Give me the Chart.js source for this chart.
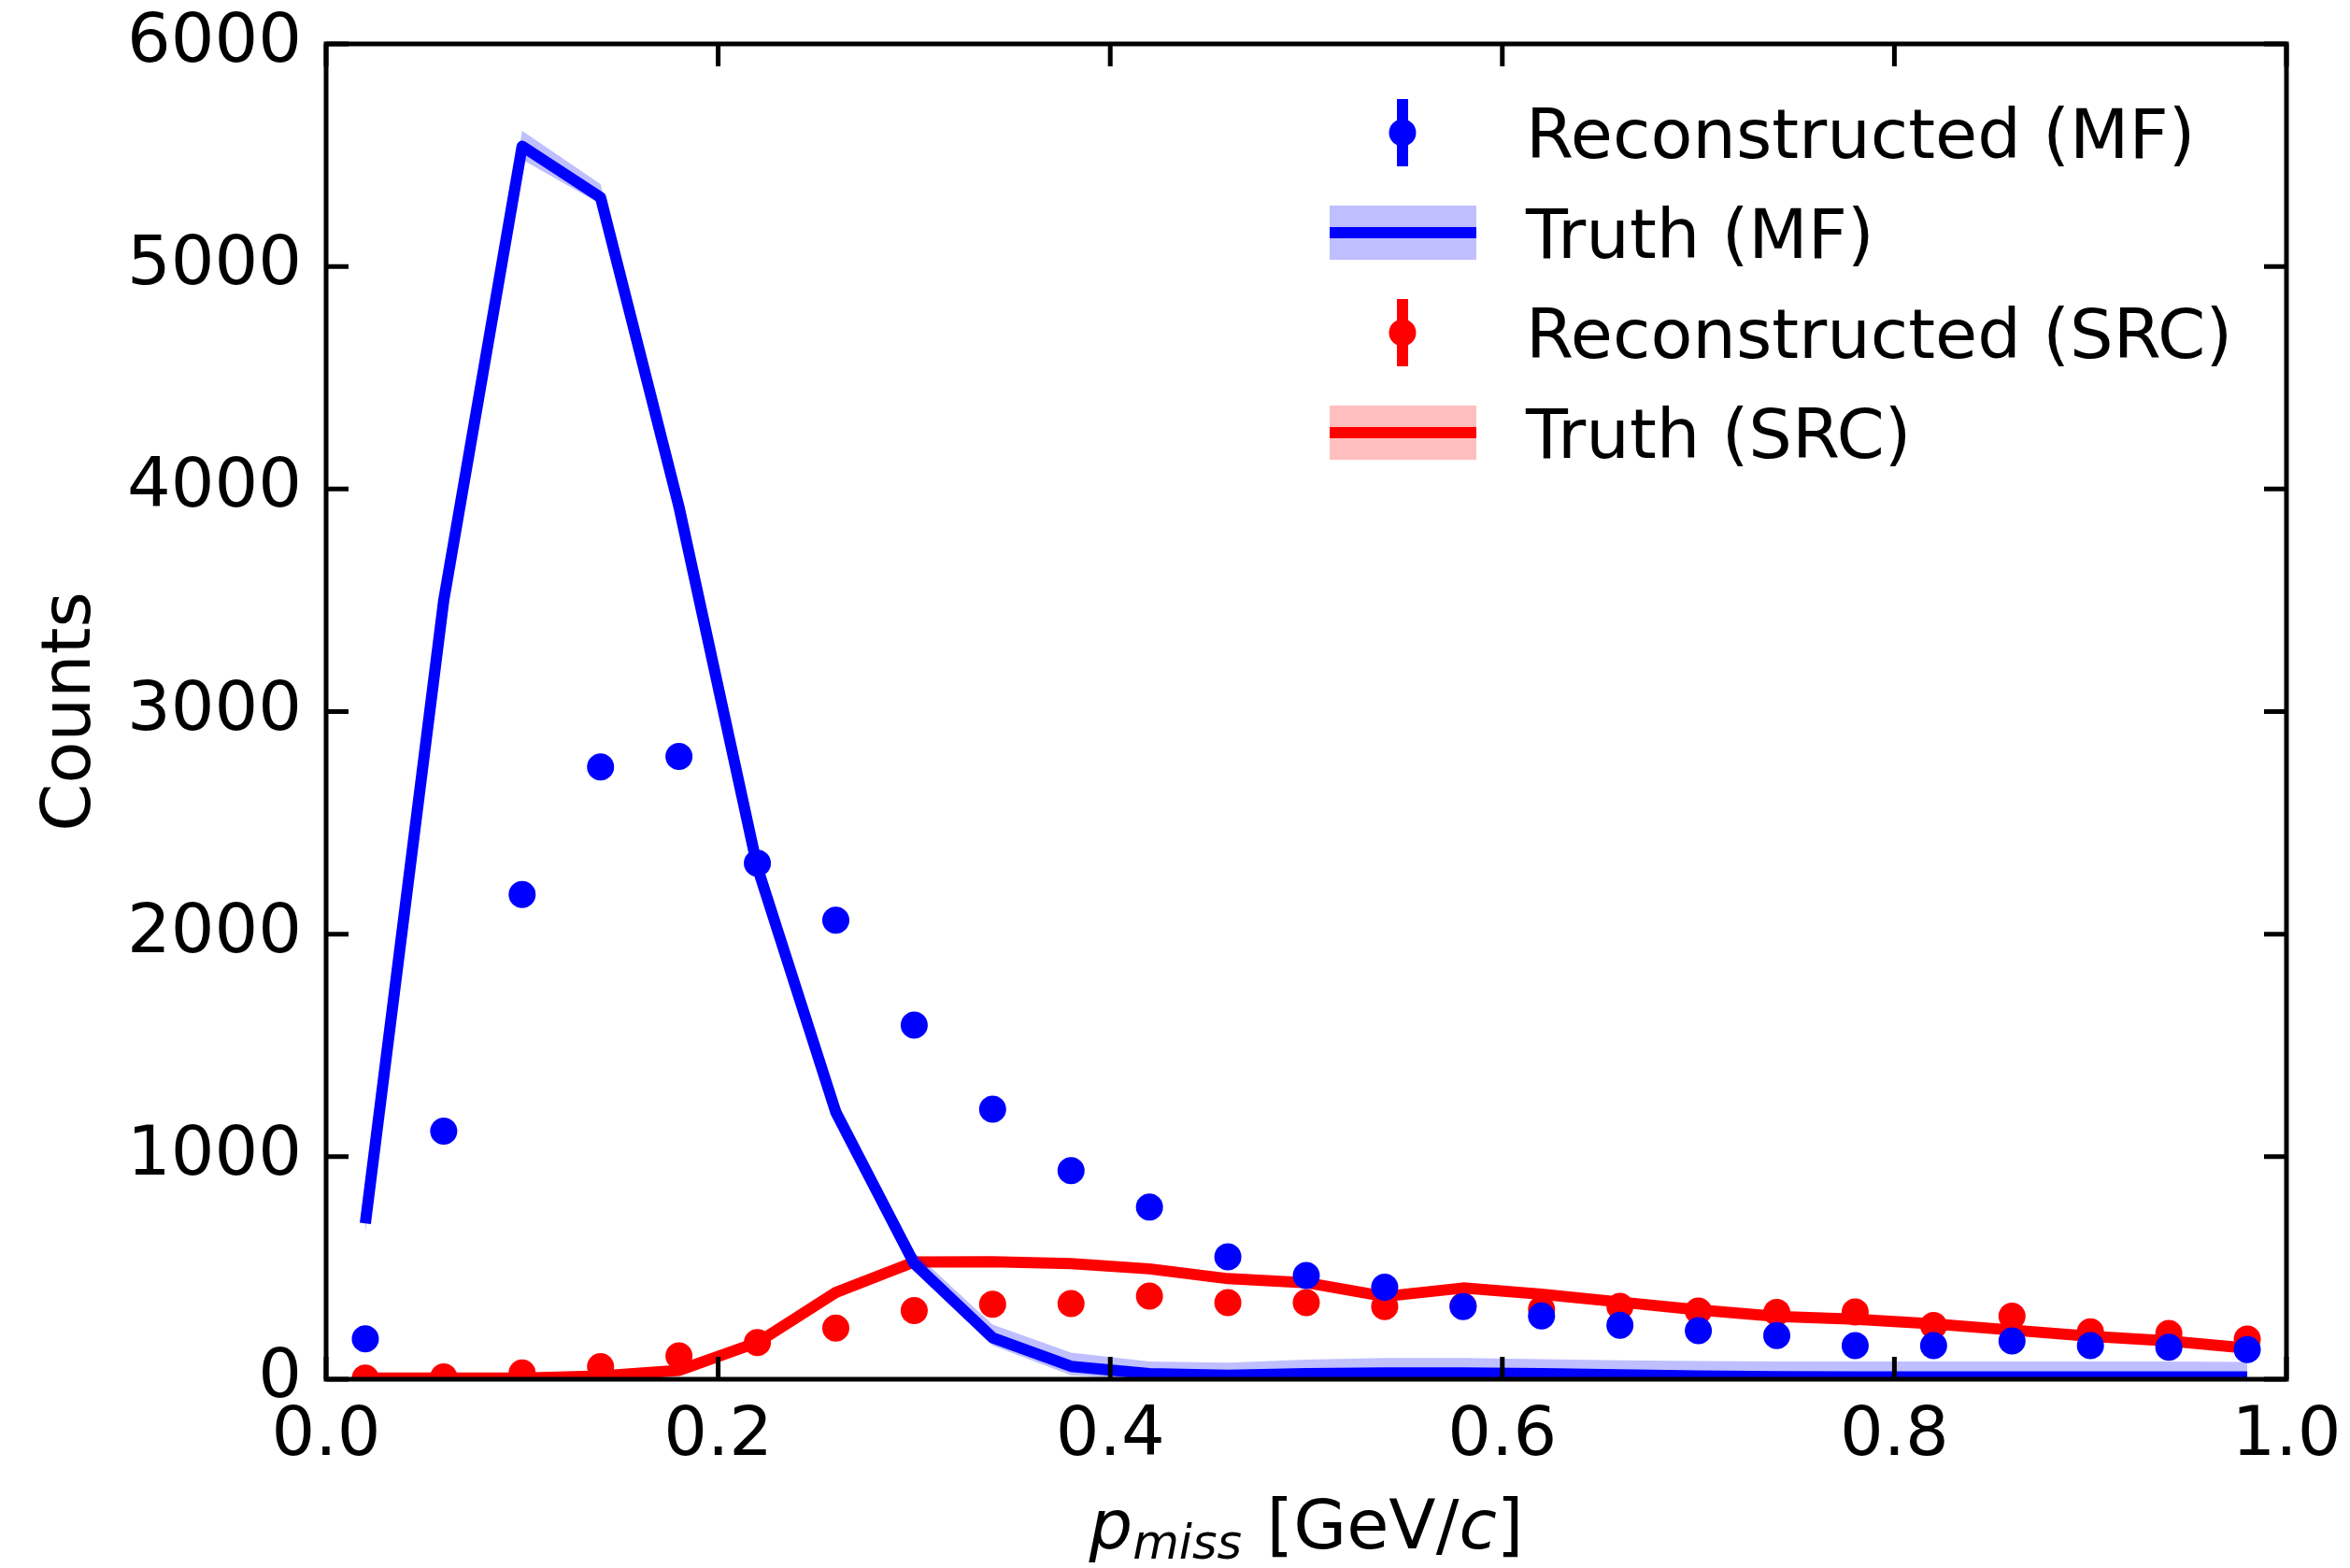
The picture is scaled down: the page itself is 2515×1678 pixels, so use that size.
<!DOCTYPE html>
<html>
<head>
<meta charset="utf-8">
<title>p_miss: reconstructed vs truth</title>
<script src="https://cdn.jsdelivr.net/npm/chart.js@4.4.1/dist/chart.umd.min.js"></script>
<style>
  html, body { margin: 0; padding: 0; background: #fff; }
  #wrap { width: 2515px; height: 1678px; position: relative; }
</style>
</head>
<body>
<div id="wrap"><canvas id="chart"></canvas></div>
<script>
// ── DATA ──────────────────────────────────────────────────────────
const P_MISS = [0.02, 0.06, 0.10, 0.14, 0.18, 0.22, 0.26, 0.30, 0.34, 0.38, 0.42, 0.46, 0.50,
                0.54, 0.58, 0.62, 0.66, 0.70, 0.74, 0.78, 0.82, 0.86, 0.90, 0.94, 0.98];

// Reconstructed counts (points)
const RECO_MF  = [182, 1115, 2178, 2751, 2798, 2319, 2063, 1591, 1213, 937, 774, 550, 466,
                  414, 326, 284, 242, 218, 196, 151, 151, 172, 151, 144, 133];
const RECO_SRC = [5, 10, 28, 57, 105, 165, 230, 309, 337, 340, 374, 344, 344,
                  326, 330, 315, 327, 306, 300, 302, 241, 283, 213, 206, 181];

// Truth curves with their uncertainty bands
const TRUTH_MF    = [700, 3500, 5540, 5310, 3920, 2300, 1200, 520, 186, 58, 25, 18, 25,
                     28, 28, 25, 20, 15, 12, 10, 10, 10, 10, 10, 10];
const TRUTH_MF_LO = [660, 3460, 5480, 5280, 3880, 2260, 1160, 490, 151, 18, 0, 0, 0,
                     0, 0, 0, 0, 0, 0, 0, 0, 0, 0, 0, 0];
const TRUTH_MF_HI = [760, 3560, 5610, 5370, 3980, 2360, 1260, 571, 246, 120, 80, 75, 88,
                     95, 95, 90, 85, 82, 80, 80, 80, 80, 80, 80, 78];

const TRUTH_SRC    = [5, 5, 5, 15, 40, 165, 390, 527, 528, 520, 496, 452, 434,
                      372, 410, 382, 347, 312, 282, 270, 249, 221, 193, 172, 140];
const TRUTH_SRC_LO = [0, 0, 0, 3, 28, 153, 378, 515, 516, 508, 484, 440, 422,
                      360, 398, 370, 335, 300, 270, 258, 237, 209, 181, 160, 128];
const TRUTH_SRC_HI = [17, 17, 17, 27, 52, 177, 402, 539, 540, 532, 508, 464, 446,
                      384, 422, 394, 359, 324, 294, 282, 261, 233, 205, 184, 152];

const X_TICKS = [0, 0.2, 0.4, 0.6, 0.8, 1.0];
const Y_TICKS = [0, 1000, 2000, 3000, 4000, 5000, 6000];

const LEGEND_ROWS = [
  { label: 'Reconstructed (MF)',  kind: 'point', color: '#0000ff' },
  { label: 'Truth (MF)',          kind: 'band',  color: '#0000ff', fill: 'rgba(0,0,255,0.25)' },
  { label: 'Reconstructed (SRC)', kind: 'point', color: '#ff0000' },
  { label: 'Truth (SRC)',         kind: 'band',  color: '#ff0000', fill: 'rgba(255,0,0,0.25)' },
];

// ── HELPERS ───────────────────────────────────────────────────────
const FONT = '"DejaVu Sans", "Liberation Sans", sans-serif';
const FS = 73.5;
const xy = ys => P_MISS.map((x, i) => ({ x, y: ys[i] }));

function lineSet(ys, color, order) {
  return { data: xy(ys), borderColor: color, borderWidth: 12, pointRadius: 0,
           borderJoinStyle: 'round', borderCapStyle: 'butt', tension: 0,
           fill: false, order, clip: 0 };
}
function bandSet(ys, fillColor, order, fill) {
  return { data: xy(ys), borderWidth: 0, borderColor: 'rgba(0,0,0,0)', pointRadius: 0,
           backgroundColor: fillColor, tension: 0, fill, order, clip: 0 };
}
function pointSet(ys, color, order) {
  return { data: xy(ys), showLine: false, pointRadius: 14.5, pointHoverRadius: 14.5,
           pointBorderWidth: 0, pointBackgroundColor: color, borderColor: color,
           order, clip: 0 };
}

// ── FRAME, TICKS, AXIS TITLES, LEGEND ─────────────────────────────
const decorations = {
  id: 'decorations',
  afterDraw(chart) {
    const { ctx, chartArea: a, scales } = chart;
    const TL = 24;
    ctx.save();
    ctx.strokeStyle = '#000';
    ctx.lineWidth = 5;
    ctx.lineCap = 'butt';
    ctx.beginPath();
    X_TICKS.forEach(v => {
      const px = scales.x.getPixelForValue(v);
      ctx.moveTo(px, a.bottom); ctx.lineTo(px, a.bottom - TL);
      ctx.moveTo(px, a.top);    ctx.lineTo(px, a.top + TL);
    });
    Y_TICKS.forEach(v => {
      const py = scales.y.getPixelForValue(v);
      ctx.moveTo(a.left, py);  ctx.lineTo(a.left + TL, py);
      ctx.moveTo(a.right, py); ctx.lineTo(a.right - TL, py);
    });
    ctx.stroke();
    ctx.lineJoin = 'miter';
    ctx.strokeRect(a.left, a.top, a.right - a.left, a.bottom - a.top);

    // y title
    ctx.fillStyle = '#000';
    ctx.save();
    ctx.translate(96, (a.top + a.bottom) / 2);
    ctx.rotate(-Math.PI / 2);
    ctx.font = FS + 'px ' + FONT;
    ctx.textAlign = 'center';
    ctx.textBaseline = 'alphabetic';
    ctx.fillText('Counts', 0, 0);
    ctx.restore();

    // x title: p_miss [GeV/c]
    const parts = [
      { t: 'p',      font: 'italic ' + FS + 'px ' + FONT, dy: 0 },
      { t: 'miss',   font: 'italic 51px ' + FONT, dy: 11, after: 3 },
      { t: ' [GeV/', font: FS + 'px ' + FONT, dy: 0 },
      { t: 'c',      font: 'italic ' + FS + 'px ' + FONT, dy: 0 },
      { t: ']',      font: FS + 'px ' + FONT, dy: 0 },
    ];
    let total = 0;
    parts.forEach(p => { ctx.font = p.font; p.w = ctx.measureText(p.t).width; total += p.w + (p.after || 0); });
    let x = (a.left + a.right) / 2 - total / 2;
    const base = 1657;
    ctx.textAlign = 'left';
    parts.forEach(p => {
      ctx.font = p.font;
      ctx.fillText(p.t, x, base + p.dy);
      x += p.w + (p.after || 0);
    });

    // legend
    const hx = 1501, tx = 1633;
    LEGEND_ROWS.forEach((r, i) => {
      const cy = 142 + i * 107;
      if (r.kind === 'point') {
        ctx.strokeStyle = r.color;
        ctx.lineWidth = 12;
        ctx.beginPath();
        ctx.moveTo(hx, cy - 36); ctx.lineTo(hx, cy + 36);
        ctx.stroke();
        ctx.fillStyle = r.color;
        ctx.beginPath();
        ctx.arc(hx, cy, 14.5, 0, Math.PI * 2);
        ctx.fill();
      } else {
        ctx.fillStyle = r.fill;
        ctx.fillRect(1423, cy - 29, 157, 58);
        ctx.strokeStyle = r.color;
        ctx.lineWidth = 12;
        ctx.beginPath();
        ctx.moveTo(1423, cy); ctx.lineTo(1580, cy);
        ctx.stroke();
      }
      ctx.fillStyle = '#000';
      ctx.font = FS + 'px ' + FONT;
      ctx.textBaseline = 'alphabetic';
      ctx.fillText(r.label, tx, cy + 26.5);
    });
    ctx.restore();
  }
};

// ── CHART ─────────────────────────────────────────────────────────
Chart.defaults.font.family = FONT;
Chart.defaults.font.size = FS;
Chart.defaults.color = '#000';

new Chart(document.getElementById('chart'), {
  type: 'line',
  data: {
    datasets: [
      pointSet(RECO_MF, '#0000ff', 0),
      pointSet(RECO_SRC, '#ff0000', 1),
      lineSet(TRUTH_MF, '#0000ff', 2),
      bandSet(TRUTH_MF_HI, 'rgba(0,0,255,0.25)', 3, '+1'),
      bandSet(TRUTH_MF_LO, 'rgba(0,0,0,0)', 3, false),
      lineSet(TRUTH_SRC, '#ff0000', 4),
      bandSet(TRUTH_SRC_HI, 'rgba(255,0,0,0.25)', 5, '+1'),
      bandSet(TRUTH_SRC_LO, 'rgba(0,0,0,0)', 5, false),
    ]
  },
  options: {
    responsive: true,
    maintainAspectRatio: false,
    animation: false,
    events: [],
    layout: { padding: { top: 47, right: 68, left: 0, bottom: 0 } },
    plugins: { legend: { display: false }, tooltip: { enabled: false } },
    scales: {
      x: {
        type: 'linear', min: 0, max: 1,
        grid: { display: false, drawTicks: false, tickLength: 0 }, border: { display: false },
        ticks: { stepSize: 0.2, padding: 18, maxRotation: 0, autoSkip: false,
                 callback: v => Number(v).toFixed(1) },
        afterFit: s => { s.height = 202; s.paddingLeft = 0; s.paddingRight = 0; }
      },
      y: {
        type: 'linear', min: 0, max: 6000,
        grid: { display: false, drawTicks: false, tickLength: 0 }, border: { display: false },
        ticks: { stepSize: 1000, padding: 26, callback: v => String(v) },
        afterFit: s => { s.width = 349; s.paddingTop = 0; s.paddingBottom = 0; }
      }
    }
  },
  plugins: [decorations]
});
</script>
</body>
</html>
